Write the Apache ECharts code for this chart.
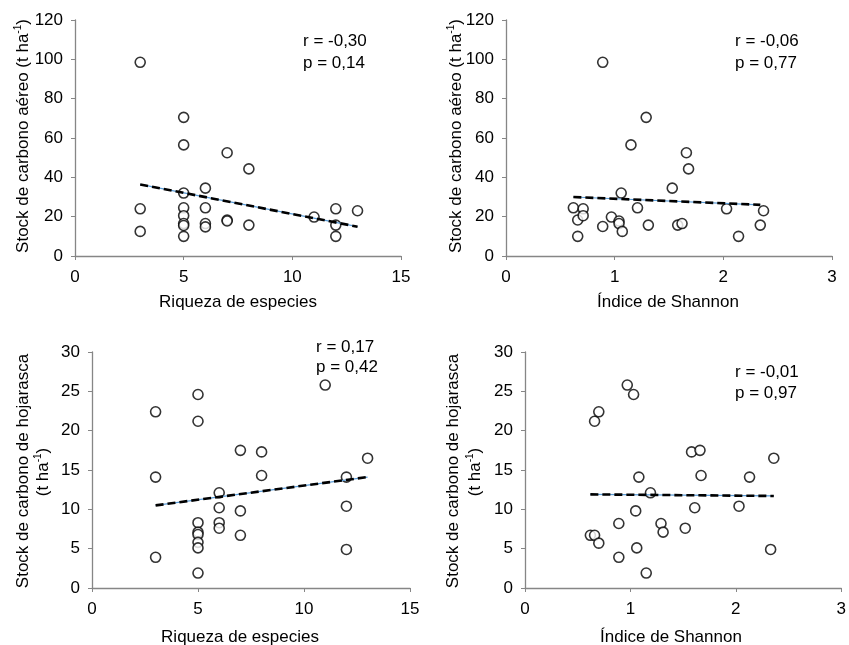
<!DOCTYPE html>
<html>
<head>
    <meta charset="utf-8">
    <script src="https://cdn.jsdelivr.net/npm/echarts@6/dist/echarts.min.js"></script>
</head>
<body style="margin:0">
    <div id="main" style="width: 849px;height:645px;"></div>
    <script>
        // riqueza de especies (n) e índice de Shannon (H') por parcela
        var riqueza = [3, 3, 3, 5, 5, 5, 5, 5, 5, 5, 5, 6, 6, 6, 6, 7, 7, 7, 8, 8, 11, 12, 12, 12, 13];
        var aereoRiqueza = [98.5, 24, 12.5, 70.5, 56.5, 32, 24.5, 20.5, 16.5, 15.5, 10, 34.5, 24.5, 16.5, 14.8, 52.5, 18.3, 17.8, 44.3, 15.7, 19.8, 24, 15.7, 10, 23];
        var hojarascaRiqueza = [22.4, 14.1, 3.9, 24.6, 21.2, 8.3, 7.1, 6.8, 5.8, 5.1, 1.9, 12.1, 10.2, 8.3, 7.6, 17.5, 9.8, 6.7, 17.3, 14.3, 25.8, 14.1, 10.4, 4.9, 16.5];

        var shannonAereo = [0.62, 0.66, 0.66, 0.71, 0.71, 0.89, 0.89, 0.97, 1.04, 1.06, 1.04, 1.07, 1.15, 1.21, 1.29, 1.31, 1.53, 1.58, 1.62, 1.66, 1.68, 2.03, 2.14, 2.34, 2.37];
        var aereoShannon = [24.5, 18.3, 10, 24, 20.5, 98.5, 15, 19.8, 17.8, 32, 16.5, 12.5, 56.5, 24.5, 70.5, 15.7, 34.5, 15.7, 16.5, 52.5, 44.3, 24, 10, 15.7, 23];
        var shannonHojarasca = [0.62, 0.66, 0.66, 0.70, 0.70, 0.89, 0.89, 0.97, 1.03, 1.05, 1.06, 1.08, 1.15, 1.19, 1.29, 1.31, 1.52, 1.58, 1.61, 1.66, 1.67, 2.03, 2.13, 2.33, 2.36];
        var hojarascaShannon = [6.7, 6.7, 21.2, 22.4, 5.7, 8.2, 3.9, 25.8, 24.6, 9.8, 5.1, 14.1, 1.9, 12.1, 8.2, 7.1, 7.6, 17.3, 10.2, 17.5, 14.3, 10.4, 14.1, 4.9, 16.5];

        // extremos de las rectas de tendencia
        var tendX1 = [3, 13], tendY1 = [36.4, 14.9];
        var tendX2 = [0.62, 2.34], tendY2 = [30, 26];
        var tendX3 = [3, 13], tendY3 = [10.5, 14.1];
        var tendX4 = [0.62, 2.36], tendY4 = [11.9, 11.7];

        var estadisticos = [['r = -0,30', 'p = 0,14'], ['r = -0,06', 'p = 0,77'], ['r = 0,17', 'p = 0,42'], ['r = -0,01', 'p = 0,97']];

        var fuente = '"Liberation Sans", Arial, sans-serif';
        var tam = 17;

        function pares(xs, ys) {
            return xs.map(function (x, i) { return [x, ys[i]]; });
        }

        var grids = [
            { left: 75, top: 20, width: 326, height: 236 },
            { left: 506, top: 20, width: 326, height: 236 },
            { left: 92, top: 352, width: 318, height: 236 },
            { left: 525, top: 352, width: 321, height: 236 }
        ];

        function ejeX(i, max, intervalo) {
            return {
                gridIndex: i, type: 'value', min: 0, max: max, interval: intervalo,
                axisLine: { lineStyle: { color: '#868686', width: 1.3 } },
                axisTick: { show: true, length: 4, lineStyle: { color: '#868686' } },
                axisLabel: { color: '#000', fontSize: tam, fontFamily: fuente, margin: 13 },
                splitLine: { show: false }
            };
        }
        function ejeY(i, max, intervalo) {
            return {
                gridIndex: i, type: 'value', min: 0, max: max, interval: intervalo,
                axisLine: { show: true, lineStyle: { color: '#868686', width: 1.3 } },
                axisTick: { show: true, length: 4, lineStyle: { color: '#868686' } },
                axisLabel: { color: '#000', fontSize: tam, fontFamily: fuente, margin: 12 },
                splitLine: { show: false }
            };
        }

        function puntos(i, datos) {
            return {
                type: 'scatter', xAxisIndex: i, yAxisIndex: i, data: datos,
                symbol: 'circle', symbolSize: 10,
                itemStyle: { color: '#fff', borderColor: '#000', borderWidth: 1.6 },
                z: 3
            };
        }
        function tendencia(i, datos) {
            return [{
                type: 'line', xAxisIndex: i, yAxisIndex: i, data: datos, symbol: 'none',
                lineStyle: { color: '#5b9bd5', width: 1.2 }, z: 4
            }, {
                type: 'line', xAxisIndex: i, yAxisIndex: i, data: datos, symbol: 'none',
                lineStyle: { color: '#000', width: 2.6, type: [8, 4] }, z: 5
            }];
        }

        var sup = { sup: { fontSize: 10, fontFamily: fuente, fill: '#000', verticalAlign: 'top', lineHeight: 19 } };

        function texto(x, y, t, rot, alinear) {
            return {
                type: 'text', x: x, y: y, rotation: rot || 0, z: 10,
                style: { text: t, fill: '#000', fontSize: tam, fontFamily: fuente, align: alinear || 'center', verticalAlign: 'middle', rich: sup }
            };
        }

        var graficos = [
            texto(238, 302, 'Riqueza de especies'),
            texto(668, 302, 'Índice de Shannon'),
            texto(240, 637, 'Riqueza de especies'),
            texto(671, 637, 'Índice de Shannon'),
            texto(23, 136, 'Stock de carbono aéreo (t ha{sup|-1})', Math.PI / 2),
            texto(456, 136, 'Stock de carbono aéreo (t ha{sup|-1})', Math.PI / 2),
            texto(23, 471, 'Stock de carbono de hojarasca', Math.PI / 2),
            texto(43, 472, '(t ha{sup|-1})', Math.PI / 2),
            texto(453, 471, 'Stock de carbono de hojarasca', Math.PI / 2),
            texto(475, 472, '(t ha{sup|-1})', Math.PI / 2)
        ];
        var posEst = [[303, 41, 63], [735, 41, 63], [316, 347, 367], [735, 372, 393]];
        posEst.forEach(function (p, i) {
            graficos.push(texto(p[0], p[1], estadisticos[i][0], 0, 'left'));
            graficos.push(texto(p[0], p[2], estadisticos[i][1], 0, 'left'));
        });

        var myChart = echarts.init(document.getElementById('main'));
        var option = {
            backgroundColor: '#fff',
            animation: false,
            grid: grids,
            xAxis: [ejeX(0, 15, 5), ejeX(1, 3, 1), ejeX(2, 15, 5), ejeX(3, 3, 1)],
            yAxis: [ejeY(0, 120, 20), ejeY(1, 120, 20), ejeY(2, 30, 5), ejeY(3, 30, 5)],
            series: [
                puntos(0, pares(riqueza, aereoRiqueza)),
                puntos(1, pares(shannonAereo, aereoShannon)),
                puntos(2, pares(riqueza, hojarascaRiqueza)),
                puntos(3, pares(shannonHojarasca, hojarascaShannon))
            ].concat(
                tendencia(0, pares(tendX1, tendY1)),
                tendencia(1, pares(tendX2, tendY2)),
                tendencia(2, pares(tendX3, tendY3)),
                tendencia(3, pares(tendX4, tendY4))
            ),
            graphic: graficos
        };
        myChart.setOption(option);
    </script>
</body>
</html>
